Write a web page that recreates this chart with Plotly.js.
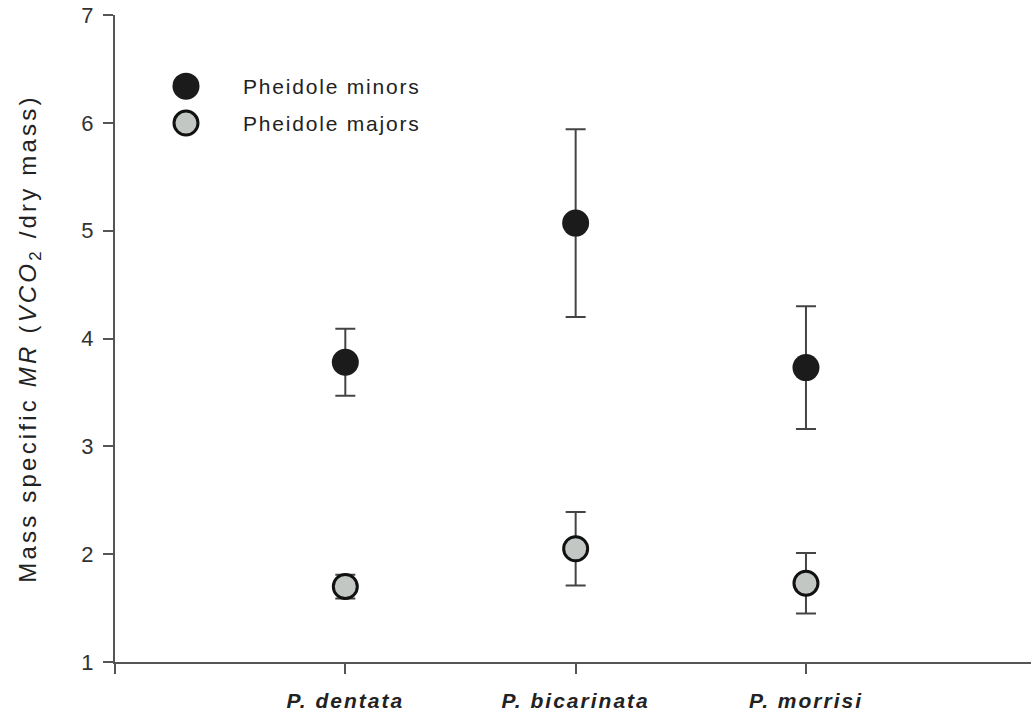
<!DOCTYPE html>
<html>
<head>
<meta charset="utf-8">
<script src="https://cdn.plot.ly/plotly-3.0.1.min.js"></script>
<style>
  html, body { margin: 0; padding: 0; background: #fff; }
  #chart { width: 1031px; height: 717px; }
  .ytitle { letter-spacing: 3.2px; }
  .xtick text { letter-spacing: 2px; }
  .annotation-text { letter-spacing: 1.8px; }
</style>
</head>
<body>
<div id="chart"></div>
<script>
// Species on the category axis (position 0 is the axis origin, left unlabeled)
const species = ['P. dentata', 'P. bicarinata', 'P. morrisi'];
const speciesPos = [1, 2, 3];

// Mass-specific metabolic rate, mean and error per caste
const minorsMean = [3.78, 5.07, 3.73];
const minorsErr  = [0.31, 0.87, 0.57];
const majorsMean = [1.70, 2.05, 1.73];
const majorsErr  = [0.11, 0.34, 0.28];

const seriesNames = ['Pheidole minors', 'Pheidole majors'];

const minorColor = '#1b1b1b';
const majorFill = '#c3c7c3';
const inkColor = '#222222';
const axisColor = '#555555';
const barColor = '#444444';

const minorMarker = { size: 27, color: minorColor, opacity: 1, line: { width: 0 } };
const majorMarker = { size: 24, color: majorFill, opacity: 1, line: { width: 3, color: '#111111' } };

const errStyle = (vals) => ({
  type: 'data', array: vals, visible: true,
  color: barColor, thickness: 2, width: 10
});

// key position, in plot-fraction units on a hidden overlay axis
const keyX = 0.0775, keyTextX = 0.1376;
const keyY = [0.890, 0.833];

const traces = [
  {
    x: speciesPos, y: minorsMean, name: seriesNames[0],
    type: 'scatter', mode: 'markers', marker: minorMarker,
    error_y: errStyle(minorsErr), showlegend: false, hoverinfo: 'skip'
  },
  {
    x: speciesPos, y: majorsMean, name: seriesNames[1],
    type: 'scatter', mode: 'markers', marker: majorMarker,
    error_y: errStyle(majorsErr), showlegend: false, hoverinfo: 'skip'
  },
  {
    x: [keyX], y: [keyY[0]], xaxis: 'x2', yaxis: 'y2',
    type: 'scatter', mode: 'markers', marker: minorMarker,
    showlegend: false, hoverinfo: 'skip'
  },
  {
    x: [keyX], y: [keyY[1]], xaxis: 'x2', yaxis: 'y2',
    type: 'scatter', mode: 'markers', marker: majorMarker,
    showlegend: false, hoverinfo: 'skip'
  }
];

const keyLabels = seriesNames.map((name, i) => ({
  xref: 'x2', yref: 'y2',
  x: keyTextX, y: keyY[i],
  xanchor: 'left', yanchor: 'middle',
  text: name, showarrow: false,
  font: { family: 'Liberation Sans, Arial, sans-serif', size: 21, color: inkColor }
}));

const layout = {
  width: 1031, height: 717,
  margin: { l: 115, r: 0, t: 15, b: 55 },
  paper_bgcolor: '#ffffff', plot_bgcolor: '#ffffff',
  font: { family: 'Liberation Sans, Arial, sans-serif', color: inkColor },
  xaxis: {
    range: [0, 3.977],
    tickvals: [0].concat(speciesPos),
    ticktext: [' '].concat(species),
    tickfont: { size: 21, color: inkColor, weight: 'bold', style: 'italic' },
    ticks: 'outside', ticklen: 10, tickwidth: 2, tickcolor: axisColor,
    ticklabelstandoff: 9,
    showline: true, linecolor: axisColor, linewidth: 2,
    showgrid: false, zeroline: false, fixedrange: true
  },
  yaxis: {
    range: [1, 7], dtick: 1, tick0: 1,
    tickfont: { size: 22, color: '#333333' },
    ticks: 'outside', ticklen: 10, tickwidth: 2, tickcolor: axisColor,
    ticklabelstandoff: 5,
    showline: true, linecolor: axisColor, linewidth: 2,
    showgrid: false, zeroline: false, fixedrange: true,
    title: {
      text: 'Mass specific <i>MR</i> (<i>VCO</i><sub>2</sub> /dry mass)',
      font: { size: 24, color: inkColor },
      standoff: 38
    }
  },
  xaxis2: { overlaying: 'x', range: [0, 1], visible: false, fixedrange: true },
  yaxis2: { overlaying: 'y', range: [0, 1], visible: false, fixedrange: true },
  annotations: keyLabels,
  showlegend: false
};

Plotly.newPlot('chart', traces, layout, { displayModeBar: false, staticPlot: true });
</script>
</body>
</html>
